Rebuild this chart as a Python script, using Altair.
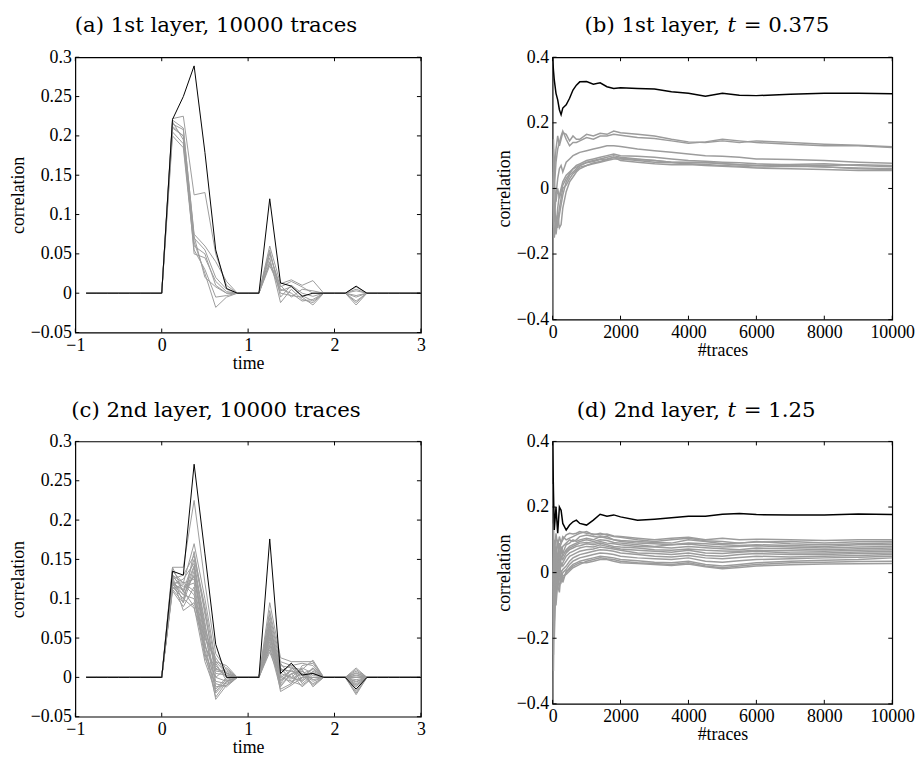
import altair as alt
import pandas as pd

# ---------------- data ----------------
TIME = [-0.875, -0.75, -0.625, -0.5, -0.375, -0.25, -0.125, 0.0,
        0.125, 0.25, 0.375, 0.5, 0.625, 0.75,
        0.875, 1.0, 1.125,
        1.25, 1.375, 1.5, 1.625, 1.75,
        1.875, 2.0, 2.125,
        2.25,
        2.375, 2.5, 2.625, 2.75, 2.875, 3.0]

A_BLACK = [0, 0, 0, 0, 0, 0, 0, 0, 0.221, 0.25, 0.289, 0.179, 0.055, 0.006, 0, 0, 0, 0.12, 0.013, 0.009, -0.004, 0, 0, 0, 0, 0.009, 0, 0, 0, 0, 0, 0]
A_GRAY = [
    [0, 0, 0, 0, 0, 0, 0, 0, 0.222, 0.225, 0.125, 0.128, 0.05, 0.01, 0, 0, 0, 0.06, 0.012, 0.017, 0.01, 0.016, 0, 0, 0, 0.003, 0, 0, 0, 0, 0, 0],
    [0, 0, 0, 0, 0, 0, 0, 0, 0.215, 0.208, 0.075, 0.06, 0.04, 0.015, 0, 0, 0, 0.05, 0.008, 0.015, 0.008, 0.0, 0, 0, 0, -0.005, 0, 0, 0, 0, 0, 0],
    [0, 0, 0, 0, 0, 0, 0, 0, 0.21, 0.2, 0.07, 0.055, 0.02, 0.005, 0, 0, 0, 0.045, -0.012, 0.005, -0.008, -0.012, 0, 0, 0, -0.015, 0, 0, 0, 0, 0, 0],
    [0, 0, 0, 0, 0, 0, 0, 0, 0.205, 0.19, 0.06, 0.05, 0.01, 0.0, 0, 0, 0, 0.04, 0.0, -0.003, -0.005, -0.015, 0, 0, 0, -0.01, 0, 0, 0, 0, 0, 0],
    [0, 0, 0, 0, 0, 0, 0, 0, 0.2, 0.185, 0.055, 0.03, -0.005, -0.003, 0, 0, 0, 0.035, 0.005, 0.0, -0.01, -0.008, 0, 0, 0, 0.005, 0, 0, 0, 0, 0, 0],
    [0, 0, 0, 0, 0, 0, 0, 0, 0.218, 0.195, 0.065, 0.025, -0.018, -0.005, 0, 0, 0, 0.055, -0.005, 0.01, 0.0, -0.004, 0, 0, 0, -0.012, 0, 0, 0, 0, 0, 0],
    [0, 0, 0, 0, 0, 0, 0, 0, 0.212, 0.2, 0.05, 0.045, 0.015, 0.002, 0, 0, 0, 0.038, 0.01, -0.005, 0.005, 0.003, 0, 0, 0, 0.008, 0, 0, 0, 0, 0, 0],
    [0, 0, 0, 0, 0, 0, 0, 0, 0.22, 0.21, 0.072, 0.02, 0.008, 0.0, 0, 0, 0, 0.052, 0.003, 0.008, -0.003, -0.01, 0, 0, 0, -0.003, 0, 0, 0, 0, 0, 0],
]

C_BLACK = [0, 0, 0, 0, 0, 0, 0, 0, 0.135, 0.13, 0.271, 0.157, 0.042, 0.0, 0, 0, 0, 0.176, 0.005, 0.018, 0.003, 0.005, 0, 0, 0, -0.015, 0, 0, 0, 0, 0, 0]
C_GRAY = [
    [0, 0, 0, 0, 0, 0, 0, 0, 0.14, 0.14, 0.225, 0.12, 0.03, 0.01, 0, 0, 0, 0.095, 0.025, 0.02, 0.02, 0.02, 0, 0, 0, 0.012, 0, 0, 0, 0, 0, 0],
    [0, 0, 0, 0, 0, 0, 0, 0, 0.13, 0.12, 0.17, 0.1, 0.02, 0.005, 0, 0, 0, 0.085, 0.02, 0.015, 0.018, 0.015, 0, 0, 0, 0.008, 0, 0, 0, 0, 0, 0],
    [0, 0, 0, 0, 0, 0, 0, 0, 0.125, 0.13, 0.155, 0.09, 0.015, 0.0, 0, 0, 0, 0.08, 0.015, 0.012, 0.01, 0.022, 0, 0, 0, 0.005, 0, 0, 0, 0, 0, 0],
    [0, 0, 0, 0, 0, 0, 0, 0, 0.12, 0.11, 0.15, 0.085, 0.0, -0.005, 0, 0, 0, 0.075, 0.01, 0.008, 0.005, 0.01, 0, 0, 0, 0.0, 0, 0, 0, 0, 0, 0],
    [0, 0, 0, 0, 0, 0, 0, 0, 0.118, 0.125, 0.145, 0.07, -0.012, -0.01, 0, 0, 0, 0.07, 0.005, 0.0, 0.012, 0.005, 0, 0, 0, -0.005, 0, 0, 0, 0, 0, 0],
    [0, 0, 0, 0, 0, 0, 0, 0, 0.115, 0.1, 0.14, 0.06, -0.02, -0.005, 0, 0, 0, 0.065, 0.0, -0.005, 0.0, 0.0, 0, 0, 0, -0.01, 0, 0, 0, 0, 0, 0],
    [0, 0, 0, 0, 0, 0, 0, 0, 0.112, 0.095, 0.135, 0.05, 0.025, 0.005, 0, 0, 0, 0.06, -0.005, 0.01, -0.005, 0.008, 0, 0, 0, -0.015, 0, 0, 0, 0, 0, 0],
    [0, 0, 0, 0, 0, 0, 0, 0, 0.122, 0.105, 0.13, 0.045, -0.028, -0.01, 0, 0, 0, 0.058, -0.01, 0.005, 0.008, -0.005, 0, 0, 0, -0.022, 0, 0, 0, 0, 0, 0],
    [0, 0, 0, 0, 0, 0, 0, 0, 0.128, 0.115, 0.12, 0.04, 0.01, 0.008, 0, 0, 0, 0.055, -0.018, -0.01, 0.0, 0.012, 0, 0, 0, 0.003, 0, 0, 0, 0, 0, 0],
    [0, 0, 0, 0, 0, 0, 0, 0, 0.11, 0.09, 0.115, 0.035, -0.015, 0.0, 0, 0, 0, 0.052, 0.008, 0.015, -0.008, 0.003, 0, 0, 0, -0.008, 0, 0, 0, 0, 0, 0],
    [0, 0, 0, 0, 0, 0, 0, 0, 0.135, 0.12, 0.11, 0.03, 0.0, 0.012, 0, 0, 0, 0.05, 0.012, -0.002, 0.005, -0.008, 0, 0, 0, 0.01, 0, 0, 0, 0, 0, 0],
    [0, 0, 0, 0, 0, 0, 0, 0, 0.118, 0.105, 0.1, 0.025, -0.008, -0.012, 0, 0, 0, 0.048, -0.012, 0.005, -0.012, 0.0, 0, 0, 0, -0.018, 0, 0, 0, 0, 0, 0],
    [0, 0, 0, 0, 0, 0, 0, 0, 0.125, 0.085, 0.095, 0.05, 0.02, 0.015, 0, 0, 0, 0.045, 0.003, -0.008, 0.015, 0.018, 0, 0, 0, 0.006, 0, 0, 0, 0, 0, 0],
    [0, 0, 0, 0, 0, 0, 0, 0, 0.13, 0.11, 0.09, 0.02, -0.018, -0.002, 0, 0, 0, 0.042, -0.008, 0.012, 0.003, -0.01, 0, 0, 0, -0.012, 0, 0, 0, 0, 0, 0],
    [0, 0, 0, 0, 0, 0, 0, 0, 0.116, 0.1, 0.088, 0.04, 0.005, 0.003, 0, 0, 0, 0.04, 0.018, 0.0, -0.005, 0.005, 0, 0, 0, -0.003, 0, 0, 0, 0, 0, 0],
    [0, 0, 0, 0, 0, 0, 0, 0, 0.12, 0.12, 0.125, 0.055, -0.005, -0.008, 0, 0, 0, 0.038, -0.015, -0.008, 0.008, -0.003, 0, 0, 0, -0.02, 0, 0, 0, 0, 0, 0],
    [0, 0, 0, 0, 0, 0, 0, 0, 0.14, 0.108, 0.142, 0.065, 0.012, 0.002, 0, 0, 0, 0.035, 0.005, 0.018, -0.003, 0.012, 0, 0, 0, 0.0, 0, 0, 0, 0, 0, 0],
    [0, 0, 0, 0, 0, 0, 0, 0, 0.113, 0.118, 0.105, 0.03, -0.025, -0.006, 0, 0, 0, 0.032, -0.003, 0.004, 0.01, -0.012, 0, 0, 0, -0.006, 0, 0, 0, 0, 0, 0],
    [0, 0, 0, 0, 0, 0, 0, 0, 0.127, 0.095, 0.16, 0.08, 0.008, 0.006, 0, 0, 0, 0.068, 0.0, 0.008, 0.002, 0.006, 0, 0, 0, 0.002, 0, 0, 0, 0, 0, 0],
    [0, 0, 0, 0, 0, 0, 0, 0, 0.119, 0.112, 0.128, 0.06, 0.018, -0.004, 0, 0, 0, 0.062, 0.012, -0.005, -0.01, 0.0, 0, 0, 0, -0.01, 0, 0, 0, 0, 0, 0],
]

TRACES = [0, 25, 50, 100, 150, 200, 250, 300,
          400, 500, 600, 700, 800,
          1000, 1200, 1400, 1600, 1800, 2000,
          2500, 3000, 3500, 4000, 4500, 5000, 5500, 6000,
          7000, 8000, 9000, 10000]

B_BLACK = [0.40, 0.36, 0.33, 0.29, 0.27, 0.24, 0.225, 0.245,
           0.255, 0.275, 0.30, 0.315, 0.325,
           0.326, 0.318, 0.322, 0.31, 0.305, 0.307,
           0.305, 0.303, 0.295, 0.29, 0.281, 0.29, 0.284, 0.283,
           0.287, 0.29, 0.29, 0.289]
B_GRAY = [
    [0.0, 0.15, 0.05, 0.12, 0.16, 0.13, 0.15, 0.17, 0.165, 0.145, 0.16, 0.15, 0.15, 0.165, 0.16, 0.168, 0.165, 0.175, 0.17, 0.165, 0.16, 0.15, 0.142, 0.14, 0.145, 0.14, 0.145, 0.14, 0.135, 0.132, 0.127],
    [-0.4, 0.1, 0.0, 0.08, 0.12, 0.14, 0.16, 0.175, 0.15, 0.13, 0.14, 0.14, 0.145, 0.155, 0.15, 0.16, 0.16, 0.165, 0.162, 0.155, 0.152, 0.145, 0.138, 0.142, 0.15, 0.145, 0.14, 0.135, 0.13, 0.13, 0.125],
    [0.0, -0.05, -0.1, -0.02, 0.03, 0.06, 0.07, 0.05, 0.08, 0.09, 0.1, 0.105, 0.11, 0.115, 0.12, 0.125, 0.13, 0.13, 0.128, 0.12, 0.115, 0.11, 0.105, 0.1, 0.098, 0.095, 0.09, 0.088, 0.085, 0.08, 0.077],
    [0.0, -0.08, -0.14, -0.12, -0.06, -0.02, 0.0, 0.02, 0.04, 0.05, 0.06, 0.07, 0.075, 0.085, 0.09, 0.095, 0.1, 0.105, 0.1, 0.098, 0.095, 0.09, 0.085, 0.083, 0.08, 0.078, 0.075, 0.072, 0.07, 0.072, 0.07],
    [0.0, -0.1, -0.15, -0.1, -0.12, -0.08, -0.05, -0.02, 0.02, 0.04, 0.05, 0.06, 0.07, 0.08, 0.085, 0.09, 0.095, 0.1, 0.095, 0.09, 0.085, 0.08, 0.078, 0.08, 0.075, 0.072, 0.07, 0.07, 0.065, 0.062, 0.06],
    [0.0, 0.05, -0.05, -0.1, -0.08, -0.12, -0.11, -0.06, -0.01, 0.02, 0.035, 0.05, 0.06, 0.07, 0.075, 0.08, 0.085, 0.09, 0.09, 0.085, 0.08, 0.078, 0.075, 0.073, 0.07, 0.068, 0.065, 0.068, 0.066, 0.06, 0.058],
    [0.0, -0.12, -0.05, -0.14, -0.1, -0.06, -0.03, 0.0, 0.01, 0.03, 0.045, 0.055, 0.065, 0.07, 0.078, 0.082, 0.088, 0.095, 0.085, 0.08, 0.075, 0.072, 0.073, 0.07, 0.068, 0.065, 0.062, 0.06, 0.058, 0.055, 0.055],
    [0.0, 0.12, 0.02, -0.04, 0.0, -0.03, -0.01, 0.01, 0.03, 0.045, 0.06, 0.065, 0.07, 0.078, 0.082, 0.088, 0.09, 0.095, 0.092, 0.088, 0.085, 0.08, 0.08, 0.078, 0.076, 0.072, 0.07, 0.073, 0.075, 0.07, 0.066],
]

D_BLACK = [0.40, 0.25, 0.13, 0.2, 0.12, 0.2, 0.19, 0.15,
           0.13, 0.145, 0.155, 0.16, 0.15,
           0.145, 0.16, 0.178, 0.172, 0.176, 0.17,
           0.16, 0.163, 0.167, 0.172, 0.172, 0.178, 0.18, 0.177,
           0.176, 0.176, 0.179, 0.177]
D_GRAY = [
    [0.27, 0.1, 0.05, 0.12, 0.08, 0.11, 0.09, 0.1, 0.115, 0.12, 0.118, 0.12, 0.125, 0.12, 0.118, 0.115, 0.118, 0.112, 0.11, 0.105, 0.1, 0.105, 0.108, 0.1, 0.105, 0.1, 0.102, 0.1, 0.098, 0.1, 0.1],
    [-0.4, -0.1, 0.1, 0.05, 0.1, 0.07, 0.09, 0.11, 0.1, 0.105, 0.11, 0.115, 0.12, 0.125, 0.115, 0.12, 0.115, 0.11, 0.108, 0.1, 0.095, 0.1, 0.105, 0.097, 0.095, 0.09, 0.093, 0.095, 0.09, 0.094, 0.095],
    [0.0, -0.2, 0.0, 0.08, 0.04, 0.09, 0.06, 0.08, 0.09, 0.1, 0.095, 0.1, 0.11, 0.115, 0.11, 0.108, 0.11, 0.1, 0.098, 0.095, 0.092, 0.09, 0.1, 0.095, 0.088, 0.09, 0.095, 0.088, 0.085, 0.088, 0.09],
    [0.15, 0.0, -0.05, 0.04, 0.1, 0.05, 0.08, 0.06, 0.085, 0.09, 0.1, 0.095, 0.1, 0.105, 0.1, 0.11, 0.105, 0.1, 0.095, 0.09, 0.088, 0.085, 0.09, 0.088, 0.085, 0.083, 0.085, 0.083, 0.08, 0.085, 0.085],
    [0.0, 0.2, -0.1, 0.0, 0.06, 0.03, 0.07, 0.05, 0.07, 0.08, 0.085, 0.09, 0.095, 0.1, 0.095, 0.1, 0.098, 0.092, 0.09, 0.085, 0.08, 0.085, 0.087, 0.082, 0.078, 0.08, 0.082, 0.078, 0.075, 0.078, 0.08],
    [0.0, -0.3, -0.05, -0.05, 0.02, 0.06, 0.04, 0.06, 0.065, 0.075, 0.08, 0.085, 0.09, 0.092, 0.09, 0.095, 0.09, 0.088, 0.085, 0.08, 0.078, 0.075, 0.08, 0.076, 0.073, 0.07, 0.075, 0.073, 0.07, 0.073, 0.075],
    [0.0, 0.05, 0.08, -0.03, 0.05, 0.02, 0.05, 0.04, 0.06, 0.07, 0.075, 0.08, 0.082, 0.088, 0.085, 0.09, 0.085, 0.08, 0.078, 0.075, 0.07, 0.068, 0.072, 0.068, 0.066, 0.065, 0.068, 0.067, 0.065, 0.068, 0.07],
    [0.0, -0.15, 0.03, 0.06, -0.02, 0.04, 0.02, 0.03, 0.05, 0.06, 0.065, 0.07, 0.075, 0.08, 0.078, 0.085, 0.08, 0.076, 0.072, 0.068, 0.065, 0.062, 0.068, 0.06, 0.058, 0.062, 0.065, 0.06, 0.06, 0.063, 0.065],
    [0.0, 0.1, -0.15, 0.02, 0.03, -0.01, 0.03, 0.02, 0.035, 0.05, 0.055, 0.06, 0.065, 0.07, 0.072, 0.078, 0.075, 0.072, 0.068, 0.06, 0.058, 0.055, 0.06, 0.052, 0.05, 0.055, 0.058, 0.055, 0.055, 0.058, 0.06],
    [0.0, -0.05, 0.0, -0.08, 0.0, 0.02, 0.0, 0.01, 0.02, 0.035, 0.045, 0.05, 0.055, 0.06, 0.065, 0.07, 0.068, 0.065, 0.06, 0.055, 0.05, 0.048, 0.052, 0.045, 0.042, 0.046, 0.05, 0.048, 0.05, 0.052, 0.055],
    [0.0, 0.0, -0.2, -0.02, -0.05, 0.0, -0.02, 0.0, 0.01, 0.025, 0.035, 0.04, 0.045, 0.05, 0.055, 0.06, 0.058, 0.055, 0.05, 0.045, 0.042, 0.04, 0.045, 0.035, 0.032, 0.036, 0.04, 0.042, 0.045, 0.047, 0.05],
    [0.0, -0.25, 0.05, -0.1, -0.03, -0.04, -0.01, -0.02, 0.0, 0.015, 0.025, 0.03, 0.035, 0.04, 0.045, 0.05, 0.048, 0.045, 0.04, 0.036, 0.032, 0.03, 0.035, 0.025, 0.02, 0.025, 0.03, 0.035, 0.038, 0.04, 0.045],
    [0.0, 0.0, 0.0, -0.05, 0.01, -0.02, -0.03, -0.01, -0.005, 0.005, 0.015, 0.02, 0.025, 0.035, 0.04, 0.045, 0.042, 0.04, 0.035, 0.03, 0.028, 0.025, 0.03, 0.02, 0.015, 0.02, 0.025, 0.03, 0.032, 0.034, 0.035],
    [0.0, -0.1, -0.08, 0.0, -0.04, -0.06, 0.0, -0.03, 0.005, 0.01, 0.02, 0.025, 0.03, 0.03, 0.035, 0.04, 0.04, 0.035, 0.03, 0.028, 0.025, 0.022, 0.026, 0.018, 0.012, 0.016, 0.02, 0.024, 0.026, 0.027, 0.028],
]

X_TICKS_TIME = [-1, 0, 1, 2, 3]
Y_TICKS_TIME = [-0.05, 0, 0.05, 0.1, 0.15, 0.2, 0.25, 0.3]
X_TICKS_TRACES = [0, 2000, 4000, 6000, 8000, 10000]
Y_TICKS_TRACES = [-0.4, -0.2, 0, 0.2, 0.4]

TITLE_A = ["(a) 1st layer, 10000 traces"]
TITLE_C = ["(c) 2nd layer, 10000 traces"]
TITLE_B = ["(b) 1st layer,", "t", "= 0.375"]
TITLE_D = ["(d) 2nd layer,", "t", "= 1.25"]

# ---------------- style ----------------
GRAY = "#9c9c9c"
TICK = 4
SERIF = "Liberation Serif"
TITLE_FONT = "DejaVu Serif"
TITLE_SIZE = 21.5


def text_layer(label, x, align, italic=False):
    df = pd.DataFrame({"label": [label]})
    kw = dict(font=TITLE_FONT, fontSize=TITLE_SIZE, align=align,
              baseline="alphabetic", color="black")
    if italic:
        kw["fontStyle"] = "italic"
    return alt.Chart(df).mark_text(**kw).encode(
        x=alt.value(x), y=alt.value(-25), text="label:N")


def panel(xs, black, grays, xdom, xticks, xfmt, ydom, yticks, xtitle, w, h, lw, titles):
    rows = []
    for i, g in enumerate(grays):
        assert len(g) == len(xs)
        for xv, yv in zip(xs, g):
            rows.append({"x": xv, "y": yv, "s": "g%d" % i})
    gray_df = pd.DataFrame(rows)
    assert len(black) == len(xs)
    black_df = pd.DataFrame({"x": xs, "y": black})

    x_enc = alt.X("x:Q", scale=alt.Scale(domain=xdom, nice=False, zero=False),
                  axis=alt.Axis(values=xticks, title=xtitle, format=xfmt, labelFlush=False))
    y_enc = alt.Y("y:Q", scale=alt.Scale(domain=ydom, nice=False, zero=False),
                  axis=alt.Axis(values=yticks, title="correlation", format="~g", labelFlush=False))

    gray = alt.Chart(gray_df).mark_line(color=GRAY, strokeWidth=lw, clip=True).encode(
        x=x_enc, y=y_enc, detail="s:N")
    blk = alt.Chart(black_df).mark_line(color="black", strokeWidth=lw, clip=True).encode(
        x=x_enc, y=y_enc)

    xt = pd.DataFrame({"x": xticks})
    yt = pd.DataFrame({"y": yticks})
    tb = alt.Chart(xt).mark_rule(color="black", strokeWidth=1).encode(
        x=x_enc, y=alt.value(h), y2=alt.value(h - TICK))
    tt = alt.Chart(xt).mark_rule(color="black", strokeWidth=1).encode(
        x=x_enc, y=alt.value(0), y2=alt.value(TICK))
    tl = alt.Chart(yt).mark_rule(color="black", strokeWidth=1).encode(
        y=y_enc, x=alt.value(0), x2=alt.value(TICK))
    tr = alt.Chart(yt).mark_rule(color="black", strokeWidth=1).encode(
        y=y_enc, x=alt.value(w), x2=alt.value(w - TICK))

    return alt.layer(gray, blk, tb, tt, tl, tr, *titles).properties(width=w, height=h)


WA, HA = 349, 278
WB, HB = 343, 265
TC = 181  # center of the italic t in panels b/d

pa = panel(TIME, A_BLACK, A_GRAY, [-1, 3], X_TICKS_TIME, "~g", [-0.05, 0.3], Y_TICKS_TIME,
           "time", WA, HA, 1.0, [text_layer(TITLE_A[0], 142, "center")])
pc = panel(TIME, C_BLACK, C_GRAY, [-1, 3], X_TICKS_TIME, "~g", [-0.05, 0.3], Y_TICKS_TIME,
           "time", WA, HA, 1.0, [text_layer(TITLE_C[0], 142, "center")])
pb = panel(TRACES, B_BLACK, B_GRAY, [0, 10000], X_TICKS_TRACES, "d", [-0.4, 0.4], Y_TICKS_TRACES,
           "#traces", WB, HB, 1.5,
           [text_layer(TITLE_B[0], TC - 12, "right"),
            text_layer(TITLE_B[1], TC, "center", italic=True),
            text_layer(TITLE_B[2], TC + 12, "left")])
pd_ = panel(TRACES, D_BLACK, D_GRAY, [0, 10000], X_TICKS_TRACES, "d", [-0.4, 0.4], Y_TICKS_TRACES,
            "#traces", WB, HB, 1.5,
            [text_layer(TITLE_D[0], TC - 12, "right"),
             text_layer(TITLE_D[1], TC, "center", italic=True),
             text_layer(TITLE_D[2], TC + 12, "left")])

row1 = alt.hconcat(pa, pb, spacing=68)
row2 = alt.hconcat(pc, pd_, spacing=68)

chart = alt.vconcat(row1, row2, spacing=26).properties(
    background="white",
    padding={"left": 0, "top": 3, "right": 0, "bottom": 0},
).configure_axis(
    labelFont=SERIF, labelFontSize=18, labelColor="black",
    titleFont=SERIF, titleFontSize=18, titleFontWeight="normal", titleColor="black",
    grid=False, domain=False, ticks=False, labelPadding=4, labelOverlap=False,
).configure_axisX(titlePadding=0).configure_axisY(titlePadding=3).configure_view(
    stroke="black", strokeWidth=1.2
)

chart.save("out.html", embed_options={"renderer": "svg", "actions": False})
